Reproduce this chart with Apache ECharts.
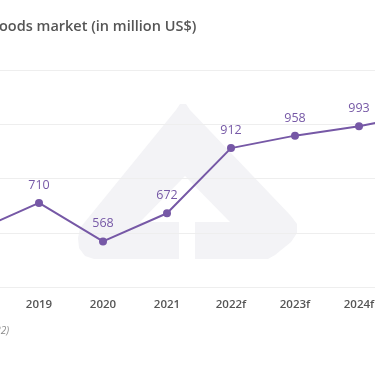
<!DOCTYPE html>
<html>
<head>
<meta charset="utf-8">
<script src="https://cdn.jsdelivr.net/npm/echarts@6/dist/echarts.min.js"></script>
<style>
html,body{margin:0;padding:0;background:#fff;overflow:hidden;width:375px;height:366px;position:relative;}
#chart{position:absolute;left:-57px;top:0;width:512px;height:366px;}
</style>
</head>
<body>
<div id="chart"></div>
<script>
const categories = ['2018', '2019', '2020', '2021', '2022f', '2023f', '2024f', '2025f'];
const marketValues = [605, 710, 568, 672, 912, 958, 993, 1040];
const yTicks = { min: 400, max: 1200, interval: 200 };
const titleText = 'oods market (in million US$)';
const sourceText = '(2022)';

const OX = 57; // the chart canvas starts 57px left of the visible window
const purple = '#7658a6';
const chart = echarts.init(document.getElementById('chart'), null, { renderer: 'canvas' });

function shift(pts) { return pts.map(p => [p[0] + OX, p[1]]); }

chart.setOption({
  animation: false,
  backgroundColor: '#ffffff',
  graphic: [
    {
      type: 'polygon', z: -10, silent: true,
      shape: { points: shift([[180, 104], [186, 104], [190, 110], [291, 216], [297, 224], [297, 233], [291, 242], [275, 255], [268, 259], [94, 259], [85, 256], [79, 248], [78, 238], [80, 228], [176, 110]]) },
      style: { fill: '#f3f3f6' }
    },
    {
      type: 'polygon', z: -9, silent: true,
      shape: { points: shift([[185, 176], [140, 222], [230, 222]]) },
      style: { fill: '#ffffff' }
    },
    {
      type: 'rect', z: -9, silent: true,
      shape: { x: 179 + OX, y: 222, width: 16, height: 38 },
      style: { fill: '#ffffff' }
    },
    {
      type: 'text', z: 5,
      style: { text: titleText, x: OX - 1, y: 27, textVerticalAlign: 'middle', fill: '#555555', font: '600 14.5px "Open Sans", sans-serif' }
    },
    {
      type: 'text', z: 5,
      style: { text: sourceText, x: OX + 9, y: 331, textAlign: 'right', textVerticalAlign: 'middle', fill: '#8a8a8a', font: 'italic 10px "Open Sans", sans-serif' }
    }
  ],
  grid: { left: 0, right: 0, top: 70, bottom: 79, containLabel: false },
  xAxis: {
    type: 'category',
    data: categories,
    boundaryGap: true,
    axisLine: { show: true, lineStyle: { color: '#eeeeee', width: 1 } },
    axisTick: { show: false },
    axisLabel: { color: '#555555', fontFamily: 'Open Sans', fontWeight: 600, fontSize: 11.5, margin: 12 }
  },
  yAxis: {
    type: 'value',
    min: yTicks.min, max: yTicks.max, interval: yTicks.interval,
    axisLine: { show: false },
    axisTick: { show: false },
    axisLabel: { show: false },
    splitLine: { lineStyle: { color: '#eeeeee', width: 1 } }
  },
  series: [{
    type: 'line',
    data: marketValues,
    z: 3,
    symbol: 'circle',
    symbolSize: 8,
    lineStyle: { color: purple, width: 2 },
    itemStyle: { color: purple },
    label: {
      show: true, position: 'top', distance: 7,
      color: purple, fontFamily: 'Open Sans', fontSize: 12.5, fontWeight: 500
    }
  }]
});
</script>
</body>
</html>
